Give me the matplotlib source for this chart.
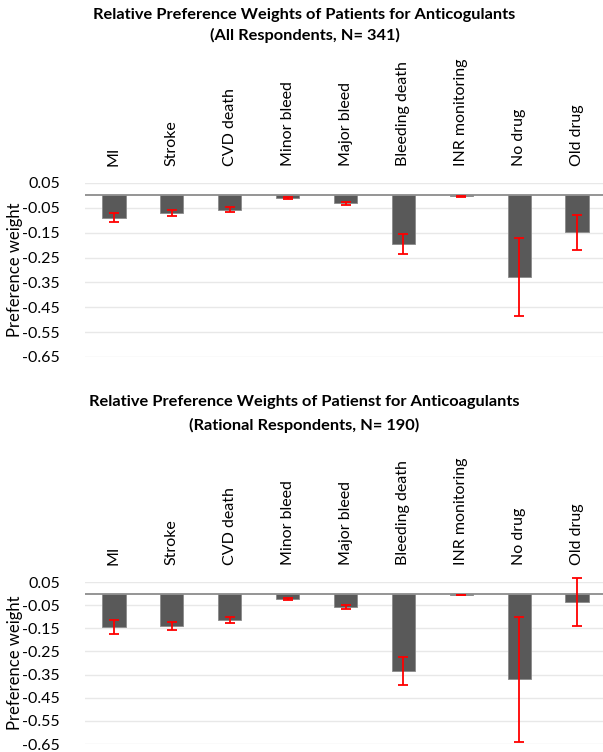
import numpy as np
import matplotlib.pyplot as plt

plt.rcParams['font.family'] = ['Lato', 'DejaVu Sans']

categories = ['MI', 'Stroke', 'CVD death', 'Minor bleed', 'Major bleed',
              'Bleeding death', 'INR monitoring', 'No drug', 'Old drug']

# all respondents (N=341)
all_w = [-0.090, -0.070, -0.058, -0.012, -0.031, -0.196, -0.004, -0.330, -0.147]
all_lo = [-0.109, -0.083, -0.066, -0.015, -0.038, -0.234, -0.005, -0.487, -0.218]
all_hi = [-0.070, -0.059, -0.047, -0.008, -0.026, -0.157, -0.003, -0.171, -0.077]

# rational respondents (N=190)
rat_w = [-0.145, -0.138, -0.113, -0.024, -0.058, -0.334, -0.005, -0.367, -0.038]
rat_lo = [-0.175, -0.158, -0.126, -0.028, -0.068, -0.396, -0.006, -0.640, -0.142]
rat_hi = [-0.116, -0.122, -0.099, -0.019, -0.051, -0.275, -0.004, -0.099, 0.066]

yticks = [0.05, -0.05, -0.15, -0.25, -0.35, -0.45, -0.55, -0.65]

fig = plt.figure(figsize=(6.03, 7.52), dpi=100)


def draw(ax, w, lo, hi):
    x = np.arange(len(categories))
    w = np.array(w)
    err = [w - np.array(lo), np.array(hi) - w]
    ax.bar(x, w, width=0.4, color='#595959', edgecolor='#8a8a8a', linewidth=0.6, zorder=2)
    ax.errorbar(x, w, yerr=np.abs(err), fmt='none', ecolor='#ff0000', elinewidth=1.3,
                capsize=3.5, capthick=1.3, zorder=3, clip_on=False)
    ax.axhline(0, color='#8c8c8c', lw=1.3, zorder=2)
    ax.set_ylim(-0.65, 0.05)
    ax.set_xlim(-0.5, len(categories) - 0.5)
    ax.set_yticks(yticks)
    ax.set_yticklabels(['%.2f' % t for t in yticks], fontsize=11.5)
    ax.yaxis.grid(True, color='#e8e8e8', lw=1, zorder=0)
    ax.set_axisbelow(True)
    ax.xaxis.tick_top()
    ax.set_xticks(x)
    ax.set_xticklabels(categories, rotation=90, fontsize=11.5)
    ax.tick_params(axis='x', length=0, pad=12)
    ax.tick_params(axis='y', length=0, pad=18)
    for s in ax.spines.values():
        s.set_visible(False)
    ax.set_ylabel('Preference weight', fontsize=12)
    ax.yaxis.set_label_coords(-0.119, 0.5)


ax1 = fig.add_axes([0.141, 0.5253, 0.864, 0.2314])
draw(ax1, all_w, all_lo, all_hi)

ax2 = fig.add_axes([0.141, 0.0106, 0.864, 0.2154])
draw(ax2, rat_w, rat_lo, rat_hi)

fig.text(0.505, 1 - 15 / 752, 'Relative Preference Weights of Patients for Anticogulants',
         ha='center', va='center', fontsize=11.8, fontweight='bold')
fig.text(0.505, 1 - 35 / 752, '(All Respondents, N= 341)',
         ha='center', va='center', fontsize=11.8, fontweight='bold')
fig.text(0.505, 1 - 402 / 752, 'Relative Preference Weights of Patienst for Anticoagulants',
         ha='center', va='center', fontsize=11.8, fontweight='bold')
fig.text(0.505, 1 - 425 / 752, '(Rational Respondents, N= 190)',
         ha='center', va='center', fontsize=11.8, fontweight='bold')

fig.savefig('out.png', dpi=100)
